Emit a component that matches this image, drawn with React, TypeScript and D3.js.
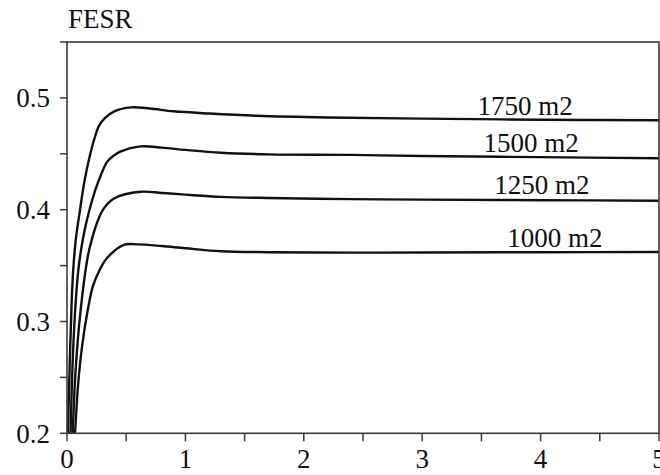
import React from "react";
import * as d3 from "d3";

const x1750 = [0.008, 0.025, 0.04, 0.055, 0.075, 0.11, 0.15, 0.19, 0.23, 0.27, 0.32, 0.4, 0.54, 0.7, 0.9, 1.2, 1.6, 2.2, 3, 4, 5];
const y1750 = [0.2, 0.27, 0.32, 0.35, 0.374, 0.4, 0.427, 0.447, 0.463, 0.475, 0.482, 0.488, 0.4915, 0.4905, 0.488, 0.486, 0.484, 0.4825, 0.4815, 0.4805, 0.48];

const x1500 = [0.03, 0.05, 0.075, 0.1, 0.14, 0.185, 0.24, 0.29, 0.34, 0.39, 0.45, 0.62, 0.8, 1.0, 1.3, 1.7, 2.4, 3, 4, 5];
const y1500 = [0.2, 0.27, 0.32, 0.35, 0.377, 0.398, 0.418, 0.432, 0.443, 0.448, 0.452, 0.4566, 0.4555, 0.4535, 0.451, 0.4495, 0.449, 0.448, 0.447, 0.446];

const x1250 = [0.048, 0.073, 0.115, 0.177, 0.214, 0.256, 0.31, 0.397, 0.62, 0.8, 1.0, 1.3, 1.7, 2.4, 3, 4, 5];
const y1250 = [0.2, 0.257, 0.31, 0.359, 0.375, 0.389, 0.401, 0.41, 0.416, 0.415, 0.4135, 0.4115, 0.4105, 0.4095, 0.409, 0.4085, 0.408];

const x1000 = [0.068, 0.095, 0.13, 0.175, 0.22, 0.28, 0.34, 0.48, 0.6, 0.8, 1.0, 1.3, 1.7, 2.4, 3, 4, 5];
const y1000 = [0.2, 0.245, 0.28, 0.31, 0.332, 0.347, 0.357, 0.3686, 0.369, 0.3675, 0.3655, 0.3628, 0.362, 0.3616, 0.3617, 0.362, 0.3622];

const seriesNames = ["1750 m2", "1500 m2", "1250 m2", "1000 m2"];
const labelX = [3.87, 3.92, 4.01, 4.12];
const labelY = [0.485, 0.4518, 0.4143, 0.367];

const xTicks = [0, 1, 2, 3, 4, 5];
const xMinor = [0.5, 1.5, 2.5, 3.5, 4.5];
const yTicks = [0.2, 0.3, 0.4, 0.5];
const yMinor = [0.25, 0.35, 0.45, 0.55];
const yTitle = "FESR";

const W = 660;
const H = 475;
const left = 67;
const right = 659;
const top = 42;
const bottom = 433.3;

export default function App() {
  const x = d3.scaleLinear().domain([0, 5]).range([left, right]);
  const y = d3.scaleLinear().domain([0.2, 0.55]).range([bottom, top]);
  const line = d3
    .line<[number, number]>()
    .x((d) => x(d[0]))
    .y((d) => y(d[1]))
    .curve(d3.curveCatmullRom.alpha(0.5));
  const series = [
    [x1750, y1750],
    [x1500, y1500],
    [x1250, y1250],
    [x1000, y1000],
  ].map(([xs, ys]) => xs.map((v, i) => [v, ys[i]] as [number, number]));

  const font = "'Liberation Serif', 'Times New Roman', serif";
  const axisColor = "#3a3a3a";
  const fs = 27;

  return (
    <svg
      width={W}
      height={H}
      style={{ position: "absolute", left: 0, top: 0, background: "#fff" }}
      fontFamily={font}
    >
      <rect x={0} y={0} width={W} height={H} fill="#fff" />
      <defs>
        <clipPath id="plot">
          <rect x={left} y={top} width={right - left} height={bottom - top} />
        </clipPath>
      </defs>
      <g clipPath="url(#plot)">
        {series.map((s, i) => (
          <path key={i} d={line(s) || ""} fill="none" stroke="#111" strokeWidth={2.4} strokeLinejoin="round" />
        ))}
      </g>
      <rect
        x={left}
        y={top}
        width={right - left}
        height={bottom - top}
        fill="none"
        stroke={axisColor}
        strokeWidth={1.6}
      />
      {[...yTicks, ...yMinor].map((t, i) => (
        <line key={"yt" + i} x1={left - 7} x2={left} y1={y(t)} y2={y(t)} stroke={axisColor} strokeWidth={1.5} />
      ))}
      {yTicks.map((t, i) => (
        <text key={"yl" + i} x={50} y={y(t) + 9.5} textAnchor="end" fontSize={fs} fill="#111">
          {t.toFixed(1)}
        </text>
      ))}
      {[...xTicks, ...xMinor].map((t, i) => (
        <line key={"xt" + i} x1={x(t)} x2={x(t)} y1={bottom} y2={bottom + 8} stroke={axisColor} strokeWidth={1.5} />
      ))}
      {xTicks.map((t, i) => (
        <text key={"xl" + i} x={x(t)} y={468} textAnchor="middle" fontSize={fs} fill="#111">
          {t}
        </text>
      ))}
      <text x={68} y={28} fontSize={fs} fill="#111">
        {yTitle}
      </text>
      {seriesNames.map((n, i) => (
        <text key={"sl" + i} x={x(labelX[i])} y={y(labelY[i])} textAnchor="middle" fontSize={fs} fill="#111">
          {n}
        </text>
      ))}
    </svg>
  );
}
